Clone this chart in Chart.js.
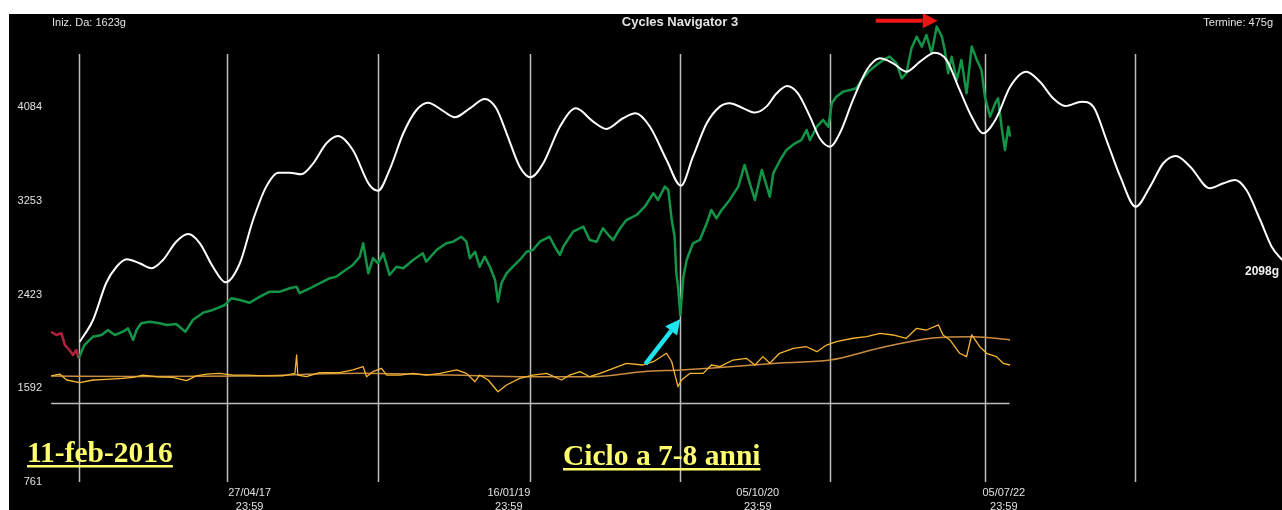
<!DOCTYPE html>
<html lang="it">
<head>
    <meta charset="UTF-8">
    <title>Cycles Navigator 3</title>
    <script src="https://cdn.jsdelivr.net/npm/chart.js"></script>
    <style>
        html, body {
            margin: 0;
            padding: 0;
            background-color: #fff;
            overflow: hidden;
        }
        #wrap {
            position: absolute;
            left: 9px;
            top: 14px;
            width: 1273px;
            height: 496px;
            background-color: #000;
        }
    </style>
</head>
<body>
    <div id="wrap"><canvas id="cycleChart"></canvas></div>

    <script>
        // x = trading-day bar (0 = 11-feb-2016), y = index level
        const yTicks = [761, 1592, 2423, 3253, 4084];
        const tickBars = [298, 750, 1184, 1613];
        const tickDates = ['27/04/17', '16/01/19', '05/10/20', '05/07/22'];
        const tickTime = '23:59';
        const gridBars = [0, 258, 521, 787, 1048, 1310, 1580, 1842];
        const gridTop = 4555;
        const baseLevel = 1461;
        const startBars = 1623;
        const termBars = 475;
        const totalBars = 2098;

        // price before the start date
        const prePrice = [[-48, 2093], [-39, 2064], [-30, 2079], [-24, 1975], [-16, 1931], [-10, 1887], [-4, 1931], [0, 1857]];

        // price from the start date
        const price = [
            [0, 1857], [10, 1975], [25, 2049], [40, 2064], [51, 2108], [63, 2064], [77, 2093], [86, 2123],
            [95, 2020], [101, 2108], [109, 2168], [124, 2182], [141, 2168], [153, 2153], [170, 2161], [186, 2093],
            [199, 2197], [217, 2262], [234, 2286], [255, 2330], [266, 2389], [281, 2374], [298, 2350], [316, 2404],
            [333, 2448], [351, 2448], [368, 2478], [380, 2492], [385, 2434], [403, 2478], [420, 2522], [438, 2567],
            [449, 2581], [461, 2625], [478, 2684], [490, 2758], [496, 2877], [505, 2611], [513, 2744], [522, 2700],
            [531, 2788], [542, 2596], [554, 2669], [566, 2655], [583, 2729], [600, 2788], [606, 2714], [624, 2817],
            [641, 2877], [653, 2891], [667, 2935], [676, 2891], [682, 2744], [691, 2802], [699, 2669], [708, 2758],
            [717, 2669], [726, 2552], [731, 2359], [737, 2522], [746, 2611], [757, 2669], [769, 2729], [781, 2802],
            [792, 2817], [804, 2891], [821, 2935], [830, 2847], [839, 2773], [845, 2847], [862, 2980], [880, 3024],
            [891, 2906], [903, 2891], [914, 3010], [926, 2935], [932, 2906], [944, 3010], [955, 3083], [973, 3128],
            [987, 3201], [1002, 3320], [1010, 3261], [1022, 3379], [1028, 3349], [1034, 3083], [1039, 2935], [1042, 2611],
            [1045, 2492], [1049, 2241], [1054, 2569], [1060, 2729], [1071, 2877], [1083, 2906], [1095, 3054], [1103, 3172],
            [1112, 3098], [1121, 3172], [1135, 3261], [1150, 3379], [1161, 3571], [1170, 3409], [1179, 3261], [1191, 3527],
            [1205, 3290], [1211, 3497], [1223, 3615], [1234, 3704], [1249, 3763], [1260, 3792], [1269, 3881], [1275, 3792],
            [1287, 3910], [1298, 3970], [1307, 3910], [1313, 4118], [1321, 4176], [1333, 4221], [1345, 4236], [1356, 4251],
            [1365, 4324], [1377, 4398], [1391, 4457], [1403, 4502], [1414, 4531], [1426, 4472], [1435, 4339], [1443, 4384],
            [1452, 4605], [1461, 4708], [1470, 4620], [1478, 4723], [1487, 4561], [1496, 4797], [1505, 4708], [1510, 4590],
            [1516, 4384], [1522, 4531], [1531, 4324], [1539, 4502], [1548, 4206], [1557, 4620], [1566, 4502], [1574, 4413],
            [1580, 4176], [1589, 3999], [1598, 4118], [1603, 4162], [1609, 3910], [1615, 3704], [1621, 3910], [1624, 3822]
        ];

        // composite cycle, extended into the projection
        const cycle = [
            [2, 2005], [25, 2197], [48, 2525], [66, 2669], [84, 2735], [106, 2700], [127, 2655], [147, 2729],
            [170, 2891], [191, 2959], [211, 2879], [234, 2669], [256, 2531], [281, 2700], [304, 3083], [327, 3379],
            [348, 3503], [368, 3503], [388, 3488], [409, 3586], [432, 3763], [452, 3828], [478, 3704], [507, 3394],
            [522, 3343], [542, 3527], [566, 3852], [589, 4058], [609, 4123], [633, 4058], [656, 3994], [682, 4073],
            [708, 4156], [728, 4073], [746, 3852], [769, 3556], [788, 3462], [810, 3586], [839, 3910], [867, 4073],
            [897, 3955], [920, 3890], [949, 3985], [971, 4029], [996, 3910], [1025, 3615], [1050, 3387], [1071, 3644],
            [1095, 3940], [1118, 4088], [1135, 4118], [1159, 4073], [1179, 4035], [1199, 4088], [1217, 4206], [1235, 4271],
            [1254, 4206], [1275, 3999], [1292, 3808], [1310, 3733], [1327, 3852], [1350, 4147], [1374, 4413], [1397, 4517],
            [1420, 4472], [1443, 4398], [1467, 4487], [1493, 4566], [1513, 4502], [1536, 4236], [1557, 3999], [1577, 3852],
            [1600, 3987], [1624, 4265], [1652, 4398], [1676, 4309], [1699, 4162], [1720, 4094], [1749, 4132], [1769, 4088],
            [1792, 3792], [1816, 3467], [1843, 3201], [1868, 3379], [1891, 3586], [1913, 3651], [1938, 3556], [1972, 3364],
            [1996, 3409], [2016, 3438], [2036, 3349], [2060, 3083], [2080, 2847], [2098, 2729]
        ];

        // oscillator (noisy) and its slow average
        const osc = [
            [-48, 1701], [-33, 1718], [-21, 1665], [2, 1641], [25, 1665], [48, 1671], [77, 1680], [95, 1689],
            [112, 1709], [136, 1694], [164, 1689], [188, 1659], [205, 1701], [223, 1718], [246, 1724], [269, 1709],
            [292, 1709], [327, 1701], [356, 1701], [377, 1724], [380, 1887], [382, 1709], [397, 1694], [420, 1730],
            [455, 1730], [478, 1754], [496, 1783], [502, 1694], [513, 1739], [528, 1769], [537, 1709], [560, 1709],
            [583, 1724], [606, 1709], [630, 1724], [659, 1754], [676, 1724], [691, 1650], [699, 1709], [714, 1665],
            [731, 1561], [746, 1621], [769, 1680], [792, 1709], [816, 1724], [842, 1665], [856, 1709], [874, 1739],
            [891, 1694], [909, 1724], [932, 1769], [955, 1813], [984, 1798], [1002, 1827], [1025, 1902], [1034, 1827],
            [1039, 1724], [1045, 1606], [1051, 1665], [1066, 1724], [1089, 1724], [1103, 1798], [1118, 1783], [1141, 1842],
            [1164, 1857], [1179, 1798], [1193, 1872], [1205, 1813], [1222, 1902], [1246, 1946], [1269, 1960], [1287, 1916],
            [1304, 1975], [1321, 2005], [1350, 2035], [1374, 2049], [1397, 2079], [1420, 2064], [1443, 2035], [1461, 2123],
            [1478, 2108], [1499, 2153], [1507, 2064], [1519, 2020], [1536, 1902], [1548, 1872], [1557, 2064], [1571, 1960],
            [1583, 1902], [1600, 1872], [1612, 1813], [1624, 1798]
        ];
        const oscAvg = [
            [-48, 1701], [89, 1696], [298, 1701], [490, 1724], [647, 1709], [788, 1694], [896, 1694], [984, 1739],
            [1050, 1754], [1106, 1771], [1223, 1816], [1310, 1842], [1397, 1949], [1489, 2037], [1559, 2049], [1624, 2020]
        ];

        const toPoints = arr => arr.map(([x, y]) => ({ x: x, y: y }));
        const sans = '"Liberation Sans", Arial, sans-serif';
        const serif = '"Liberation Serif", "Times New Roman", serif';

        function drawArrow(ctx, x1, y1, x2, y2, color, width, headLen, headHalf) {
            const a = Math.atan2(y2 - y1, x2 - x1);
            const bx = x2 - headLen * Math.cos(a);
            const by = y2 - headLen * Math.sin(a);
            ctx.strokeStyle = color;
            ctx.fillStyle = color;
            ctx.lineWidth = width;
            ctx.beginPath();
            ctx.moveTo(x1, y1);
            ctx.lineTo(bx, by);
            ctx.stroke();
            ctx.beginPath();
            ctx.moveTo(x2, y2);
            ctx.lineTo(bx + headHalf * Math.sin(a), by - headHalf * Math.cos(a));
            ctx.lineTo(bx - headHalf * Math.sin(a), by + headHalf * Math.cos(a));
            ctx.closePath();
            ctx.fill();
        }

        function underlined(ctx, text, x, yBase) {
            ctx.font = 'bold 29.5px ' + serif;
            ctx.fillStyle = '#ffff6e';
            ctx.textAlign = 'left';
            ctx.textBaseline = 'alphabetic';
            ctx.fillText(text, x, yBase);
            const w = ctx.measureText(text).width;
            ctx.fillRect(x, yBase + 3, w, 2.5);
        }

        const overlay = {
            id: 'overlay',
            beforeDatasetsDraw(chart) {
                const { ctx, scales: { x, y } } = chart;
                ctx.save();
                ctx.strokeStyle = '#bcbcbc';
                ctx.lineWidth = 1.5;
                gridBars.forEach(b => {
                    const px = Math.round(x.getPixelForValue(b)) + 0.5;
                    ctx.beginPath();
                    ctx.moveTo(px, y.getPixelForValue(gridTop));
                    ctx.lineTo(px, y.getPixelForValue(yTicks[0]));
                    ctx.stroke();
                });
                const by = Math.round(y.getPixelForValue(baseLevel)) + 0.5;
                ctx.beginPath();
                ctx.moveTo(x.getPixelForValue(prePrice[0][0]), by);
                ctx.lineTo(x.getPixelForValue(startBars), by);
                ctx.stroke();
                ctx.restore();
            },
            afterDatasetsDraw(chart) {
                const { ctx, scales: { x, y } } = chart;
                ctx.save();

                // header texts
                ctx.fillStyle = '#e2e2e2';
                ctx.textBaseline = 'alphabetic';
                ctx.font = 'bold 13px ' + sans;
                ctx.textAlign = 'center';
                ctx.fillText('Cycles Navigator 3', 671, 12);
                ctx.font = '11px ' + sans;
                ctx.textAlign = 'left';
                ctx.fillText('Iniz. Da: ' + startBars + 'g', 43, 12);
                ctx.textAlign = 'right';
                ctx.fillText('Termine: ' + termBars + 'g', 1264, 12);

                // end label of the projection
                ctx.font = 'bold 12px ' + sans;
                ctx.fillStyle = '#f0f0f0';
                ctx.textBaseline = 'middle';
                ctx.fillText(totalBars + 'g', x.getPixelForValue(totalBars) - 3, y.getPixelForValue(cycle[cycle.length - 1][1]) + 12);

                // arrows: top of the market and covid low
                const top = price.reduce((m, p) => p[1] > m[1] ? p : m);
                const low = price.filter(p => p[0] > 1000 && p[0] < 1100).reduce((m, p) => p[1] < m[1] ? p : m);
                const tx = x.getPixelForValue(top[0]) + 1;
                const ty = y.getPixelForValue(top[1]) - 6;
                drawArrow(ctx, tx - 62, ty, tx, ty, '#ee1414', 4, 15, 7.5);
                const lx = x.getPixelForValue(low[0]);
                const ly = y.getPixelForValue(low[1]) + 4;
                drawArrow(ctx, lx - 35, ly + 45, lx, ly, '#1ee4f0', 4.5, 15, 7.5);

                // annotations
                underlined(ctx, '11-feb-2016', 18, 448);
                underlined(ctx, 'Ciclo a 7-8 anni', 554, 451);
                ctx.restore();
            }
        };

        const ctx = document.getElementById('cycleChart').getContext('2d');
        new Chart(ctx, {
            type: 'line',
            data: {
                datasets: [
                    {
                        data: toPoints(cycle),
                        borderColor: '#ffffff',
                        borderWidth: 2,
                        cubicInterpolationMode: 'monotone'
                    },
                    {
                        data: toPoints(price),
                        borderColor: '#139447',
                        borderWidth: 2.5
                    },
                    {
                        data: toPoints(prePrice),
                        borderColor: '#b3203c',
                        borderWidth: 2.5
                    },
                    {
                        data: toPoints(osc),
                        borderColor: '#f6b531',
                        borderWidth: 1.3
                    },
                    {
                        data: toPoints(oscAvg),
                        borderColor: '#c98d40',
                        borderWidth: 1.5,
                        cubicInterpolationMode: 'monotone'
                    }
                ]
            },
            options: {
                responsive: true,
                maintainAspectRatio: false,
                animation: false,
                elements: {
                    point: { radius: 0 },
                    line: { tension: 0, borderJoinStyle: 'round' }
                },
                layout: { padding: 0 },
                plugins: {
                    legend: { display: false },
                    tooltip: { enabled: false }
                },
                scales: {
                    x: {
                        type: 'linear',
                        min: -50,
                        max: totalBars,
                        grid: { display: false, drawTicks: false },
                        border: { display: false },
                        afterFit: scale => {
                            scale.height = 28;
                            scale.paddingLeft = 0;
                            scale.paddingRight = 0;
                        },
                        afterBuildTicks: scale => { scale.ticks = tickBars.map(v => ({ value: v })); },
                        ticks: {
                            autoSkip: false,
                            maxRotation: 0,
                            padding: 4,
                            color: '#e0e0e0',
                            font: { family: sans, size: 11, lineHeight: 1.25 },
                            callback: (value, index) => [tickDates[index], tickTime]
                        }
                    },
                    y: {
                        min: 761,
                        max: 4909,
                        grid: { display: false, drawTicks: false },
                        border: { display: false },
                        afterFit: scale => {
                            scale.width = 41;
                            scale.paddingTop = 0;
                            scale.paddingBottom = 0;
                        },
                        afterBuildTicks: scale => { scale.ticks = yTicks.map(v => ({ value: v })); },
                        ticks: {
                            padding: 8,
                            color: '#e0e0e0',
                            font: { family: sans, size: 11 },
                            callback: value => String(value)
                        }
                    }
                }
            },
            plugins: [overlay]
        });
    </script>
</body>
</html>
